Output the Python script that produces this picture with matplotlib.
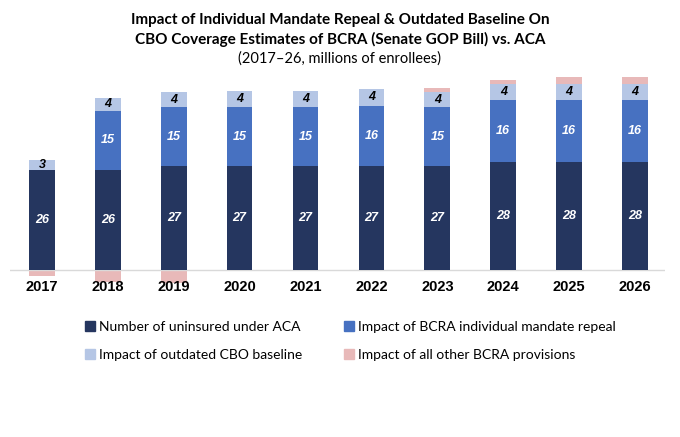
import numpy as np
import matplotlib.pyplot as plt
from matplotlib.patches import Patch

# Data (millions of enrollees)
years = ['2017', '2018', '2019', '2020', '2021', '2022', '2023', '2024', '2025', '2026']
uninsured = [26.0, 26.0, 26.9, 26.9, 26.9, 26.9, 26.9, 28.0, 28.0, 28.0]
mandate = [0.0, 15.1, 15.2, 15.2, 15.2, 15.6, 15.2, 16.1, 16.1, 16.1]
outdated = [2.6, 3.5, 4.0, 4.2, 4.2, 4.4, 3.9, 4.0, 4.0, 4.0]
other = [-1.5, -3.1, -3.3, -0.2, -0.2, -0.2, 1.0, 1.0, 1.9, 1.9]

c_dark = '#25365f'
c_mid = '#4771c1'
c_light = '#b5c6e5'
c_pink = '#e8b9b9'

plt.rcParams['font.family'] = ['Lato', 'DejaVu Sans']

fig = plt.figure(figsize=(6.8, 4.37), dpi=100)
ax = fig.add_axes([10 / 680, 1 - 289 / 437, 655 / 680, 216 / 437])

x = np.arange(len(years))
w = 0.39
uninsured = np.array(uninsured)
mandate = np.array(mandate)
outdated = np.array(outdated)
other = np.array(other)

ax.bar(x, uninsured, w, color=c_dark, zorder=2)
ax.bar(x, mandate, w, bottom=uninsured, color=c_mid, zorder=2)
ax.bar(x, outdated, w, bottom=uninsured + mandate, color=c_light, zorder=2)
top = uninsured + mandate + outdated
pos_other = np.where(other > 0, other, 0)
neg_other = np.where(other < 0, other, 0)
ax.bar(x, pos_other, w, bottom=top, color=c_pink, zorder=2)
ax.bar(x, neg_other, w, color=c_pink, zorder=1)

ax.axhline(0, color='#d9d9d9', lw=1, zorder=1.5)

lab = dict(ha='center', va='center', fontsize=9, fontweight='bold',
           style='italic', family=['Liberation Sans', 'DejaVu Sans'])
for i in range(len(years)):
    ax.text(x[i], uninsured[i] / 2, f'{uninsured[i]:.0f}', color='white', **lab)
    if mandate[i] > 0:
        ax.text(x[i], uninsured[i] + mandate[i] / 2, f'{mandate[i]:.0f}', color='white', **lab)
    ax.text(x[i], uninsured[i] + mandate[i] + outdated[i] / 2, f'{outdated[i]:.0f}',
            color='black', **lab)
    ax.text(x[i], -4.4, years[i], ha='center', va='center', fontsize=10.5,
            fontweight='bold', family=['Liberation Sans', 'DejaVu Sans'])

ax.set_xlim(-0.485, 9.455)
ax.set_ylim(-4.9, 51)
ax.axis('off')

fig.text(0.5, 1 - 20 / 437, 'Impact of Individual Mandate Repeal & Outdated Baseline On',
         ha='center', va='center', fontsize=11, fontweight='bold')
fig.text(0.5, 1 - 39 / 437, 'CBO Coverage Estimates of BCRA (Senate GOP Bill) vs. ACA',
         ha='center', va='center', fontsize=11, fontweight='bold')
fig.text(0.5, 1 - 58.5 / 437, '(2017\u201326, millions of enrollees)',
         ha='center', va='center', fontsize=10.5)

handles = [Patch(color=c_dark), Patch(color=c_light), Patch(color=c_mid), Patch(color=c_pink)]
labels = ['Number of uninsured under ACA', 'Impact of outdated CBO baseline',
          'Impact of BCRA individual mandate repeal', 'Impact of all other BCRA provisions']
fig.legend(handles, labels, ncol=2, loc='center', bbox_to_anchor=(0.515, 1 - 341 / 437),
           frameon=False, fontsize=10, handlelength=0.7, handleheight=0.7,
           handletextpad=0.3, columnspacing=3.0, labelspacing=1.15)

fig.savefig('out.png', dpi=100)
